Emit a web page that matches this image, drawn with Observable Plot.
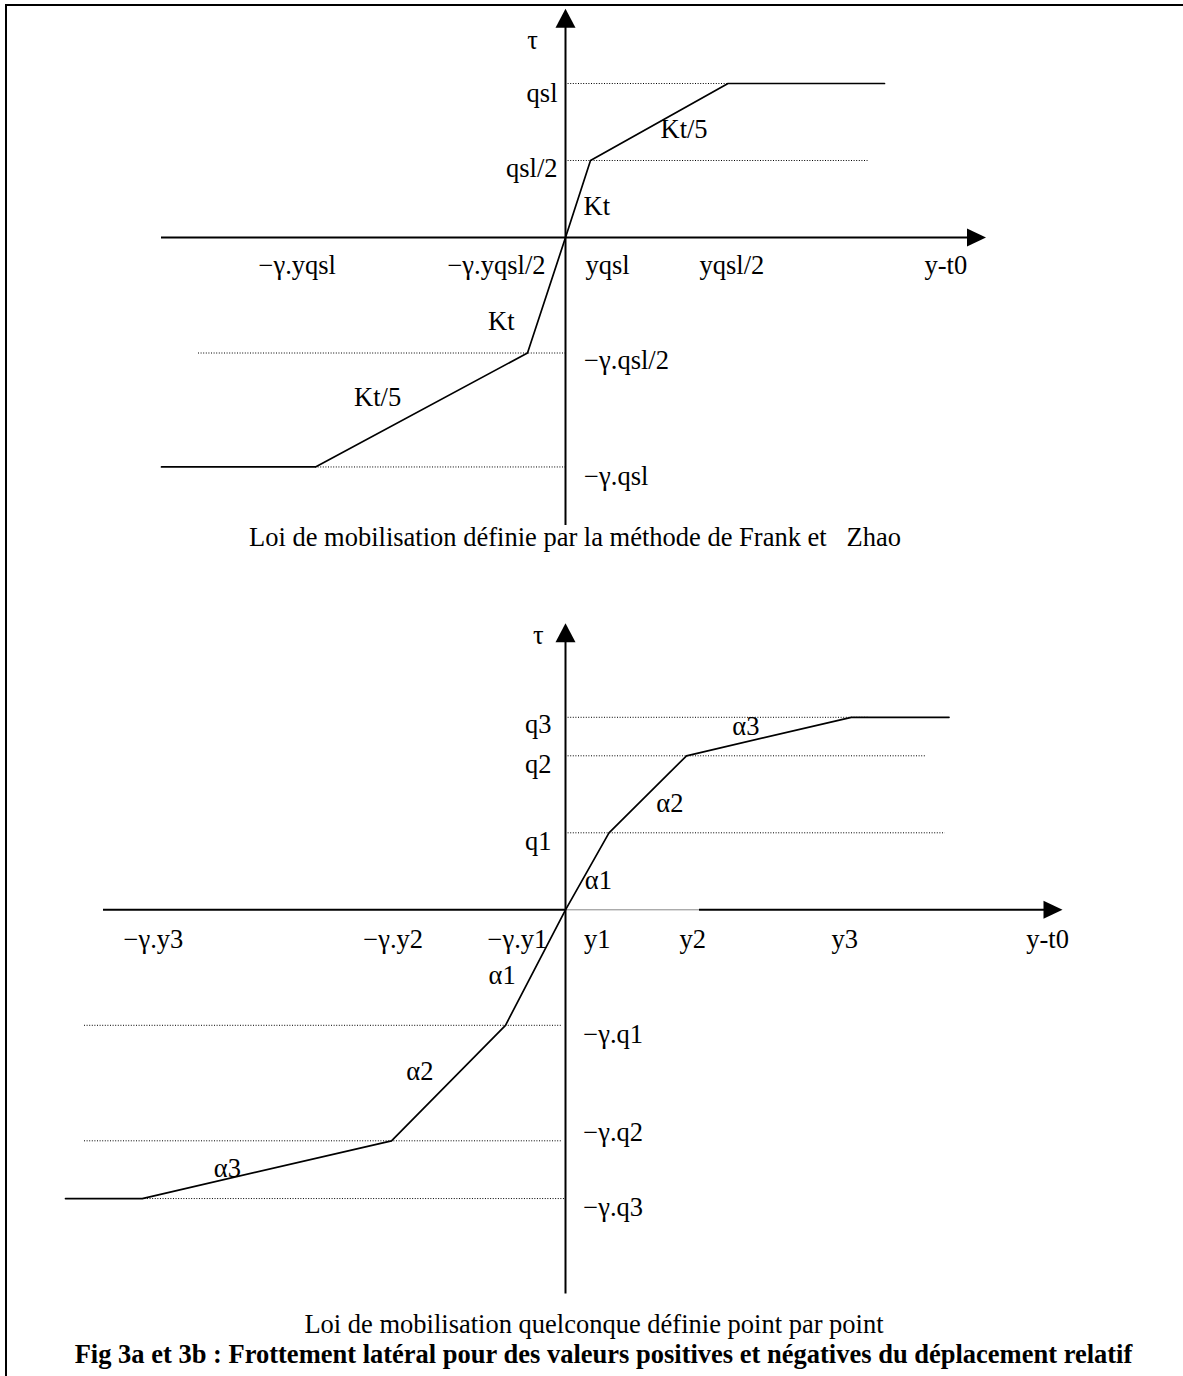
<!DOCTYPE html>
<html>
<head>
<meta charset="utf-8">
<script src="https://cdn.jsdelivr.net/npm/d3@7"></script>
<script src="https://cdn.jsdelivr.net/npm/@observablehq/plot@0.6"></script>
<style>
  html, body { margin: 0; padding: 0; background: #fff; }
  #page { position: relative; width: 1183px; height: 1376px; overflow: hidden;
          font-family: "Liberation Serif", "Times New Roman", serif; color: #000; }
  #border { position: absolute; left: 5px; top: 4px; right: -20px; bottom: -20px;
            border-left: 2px solid #000; border-top: 2px solid #000; }
  .cap { position: absolute; white-space: pre; font-size: 26.5px; line-height: 1;
         transform: translateX(-50%); }
  .bold { font-weight: bold; }
</style>
</head>
<body>
<div id="page"><div id="border"></div></div>
<script>
// ---------------- Fig 3a : Frank & Zhao law ----------------
// x = relative displacement (y - t0), tau = lateral friction
const lawA_x   = [-16.16, -10, -1.52, 0, 1, 6.5, 12.76];
const lawA_tau = [-1.49, -1.49, -0.75, 0, 0.5, 1, 1];

const guidesA_tau = [1, 0.5, -0.75, -1.49];
const guidesA_x1  = [0, 0, -14.68, -10];
const guidesA_x2  = [6.5, 12.1, 0, 0];

const axisA_x   = [-16.16, 16.82];
const axisA_tau = [-1.87, 1.485];

const labelsA_text   = ["τ", "qsl", "qsl/2", "Kt/5", "Kt", "−γ.yqsl", "−γ.yqsl/2", "yqsl", "yqsl/2", "y-t0", "Kt", "−γ.qsl/2", "Kt/5", "−γ.qsl"];
const labelsA_x      = [-1.32, -0.32, -0.32, 3.8, 0.72, -12.28, -0.8, 0.8, 5.36, 14.36, -3.1, 0.744, -8.456, 0.744];
const labelsA_tau    = [1.225, 0.88, 0.392, 0.647, 0.143, -0.24, -0.24, -0.24, -0.24, -0.24, -0.599, -0.851, -1.091, -1.61];
const labelsA_anchor = ["middle", "end", "end", "start", "start", "start", "end", "start", "start", "start", "start", "start", "start", "start"];

// ---------------- Fig 3b : point-by-point law ----------------
const lawB_x   = [-20, -16.93, -6.96, -2.4, 0, 1.74, 4.84, 11.43, 15.34];
const lawB_tau = [-1.875, -1.875, -1.5, -0.75, 0, 0.5, 1, 1.25, 1.25];

const guidesB_tau = [1.25, 1, 0.5, -0.75, -1.5, -1.875];
const guidesB_x1  = [0, 0, 0, -19.24, -19.24, -16.93];
const guidesB_x2  = [12.16, 14.42, 15.19, -0.12, -0.12, 0];

const axisB_x      = [-18.48, 19.88];
const axisB_tau    = [-2.494, 1.861];
const axisB_gray_x = [0, 5.36];

const labelsB_text   = ["τ", "q3", "q2", "q1", "α3", "α2", "α1", "−γ.y3", "−γ.y2", "−γ.y1", "y1", "y2", "y3", "y-t0", "α1", "α2", "α3", "−γ.q1", "−γ.q2", "−γ.q3"];
const labelsB_x      = [-1.09, -0.56, -0.56, -0.56, 6.67, 3.63, 0.77, -17.68, -8.09, -3.12, 0.744, 4.56, 10.64, 18.43, -3.08, -6.37, -14.07, 0.71, 0.71, 0.71];
const labelsB_tau    = [1.727, 1.145, 0.890, 0.390, 1.132, 0.634, 0.136, -0.245, -0.245, -0.245, -0.245, -0.245, -0.245, -0.245, -0.481, -1.108, -1.732, -0.864, -1.503, -1.99];
const labelsB_anchor = ["middle", "end", "end", "end", "start", "start", "start", "start", "start", "start", "start", "start", "start", "start", "start", "start", "start", "start", "start", "start"];

const captionA = "Loi de mobilisation définie par la méthode de Frank et   Zhao";
const captionB = "Loi de mobilisation quelconque définie point par point";
const captionFig = "Fig 3a et 3b : Frottement latéral pour des valeurs positives et négatives du déplacement relatif";

// ---------------- layout ----------------
const W = 1183;
const originX = 565, unitX = 25;            // px of x = 0, px per x unit
const xDomain = [-originX / unitX, (W - originX) / unitX];
const FONT = "Liberation Serif";
const FS = 26.5;

const arrowUp = { draw(ctx) { ctx.moveTo(0, 0); ctx.lineTo(-10, 19); ctx.lineTo(10, 19); ctx.closePath(); } };
const arrowRight = { draw(ctx) { ctx.moveTo(0, 0); ctx.lineTo(-19, -9); ctx.lineTo(-19, 9); ctx.closePath(); } };

function zip(keys, arrays) {
  return arrays[0].map((_, i) => Object.fromEntries(keys.map((k, j) => [k, arrays[j][i]])));
}

function labelMarks(rows) {
  return ["start", "middle", "end"].map(a =>
    Plot.text(rows.filter(d => d.anchor === a), {
      x: "x", y: "y", text: "t", textAnchor: a, lineAnchor: "bottom",
      fontFamily: FONT, fontSize: FS, fill: "#000"
    }));
}

function guideMark(tau, x1, x2) {
  return Plot.ruleY(zip(["y", "x1", "x2"], [tau, x1, x2]), {
    y: "y", x1: "x1", x2: "x2", stroke: "#000", strokeWidth: 1, strokeDasharray: "1,1.6"
  });
}

function panel(height, originY, unitY, marks) {
  return Plot.plot({
    width: W, height, margin: 0,
    x: { domain: xDomain, axis: null },
    y: { domain: [-(height - originY) / unitY, originY / unitY], axis: null },
    style: { background: "transparent", overflow: "visible" },
    marks
  });
}

// Panel A
const rowsA = zip(["t", "x", "y", "anchor"], [labelsA_text, labelsA_x, labelsA_tau, labelsA_anchor]);
const svgA = panel(530, 237, 154, [
  guideMark(guidesA_tau, guidesA_x1, guidesA_x2),
  Plot.ruleY([0], { x1: axisA_x[0], x2: axisA_x[1] - 0.3, stroke: "#000", strokeWidth: 2 }),
  Plot.ruleX([0], { y1: axisA_tau[0], y2: axisA_tau[1] - 0.05, stroke: "#000", strokeWidth: 2 }),
  Plot.dot([0], { x: [0], y: [axisA_tau[1]], symbol: arrowUp, fill: "#000", stroke: "none" }),
  Plot.dot([0], { x: [axisA_x[1]], y: [0], symbol: arrowRight, fill: "#000", stroke: "none" }),
  Plot.line(zip(["x", "y"], [lawA_x, lawA_tau]), { x: "x", y: "y", stroke: "#000", strokeWidth: 1.7, curve: "linear" }),
  ...labelMarks(rowsA)
]);

// Panel B
const rowsB = zip(["t", "x", "y", "anchor"], [labelsB_text, labelsB_x, labelsB_tau, labelsB_anchor]);
const svgB = panel(740, 349.3, 154, [
  guideMark(guidesB_tau, guidesB_x1, guidesB_x2),
  Plot.ruleY([0], { x1: axisB_x[0], x2: axisB_gray_x[0], stroke: "#000", strokeWidth: 2 }),
  Plot.ruleY([0], { x1: axisB_gray_x[0], x2: axisB_gray_x[1], stroke: "#888", strokeWidth: 1 }),
  Plot.ruleY([0], { x1: axisB_gray_x[1], x2: axisB_x[1] - 0.3, stroke: "#000", strokeWidth: 2 }),
  Plot.ruleX([0], { y1: axisB_tau[0], y2: axisB_tau[1] - 0.05, stroke: "#000", strokeWidth: 2 }),
  Plot.dot([0], { x: [0], y: [axisB_tau[1]], symbol: arrowUp, fill: "#000", stroke: "none" }),
  Plot.dot([0], { x: [axisB_x[1]], y: [0], symbol: arrowRight, fill: "#000", stroke: "none" }),
  Plot.line(zip(["x", "y"], [lawB_x, lawB_tau]), { x: "x", y: "y", stroke: "#000", strokeWidth: 1.7, curve: "linear" }),
  ...labelMarks(rowsB)
]);

const page = document.getElementById("page");
function place(el, top) {
  el.style.position = "absolute";
  el.style.left = "0px";
  el.style.top = top + "px";
  page.appendChild(el);
}
place(svgA, 0);
place(svgB, 560);

function caption(text, centerX, baseline, cls) {
  const d = document.createElement("div");
  d.className = "cap" + (cls ? " " + cls : "");
  d.textContent = text;
  d.style.left = centerX + "px";
  d.style.top = (baseline - 0.8375 * FS) + "px";
  page.appendChild(d);
}
caption(captionA, 575, 546);
caption(captionB, 594, 1332.7);
caption(captionFig, 603.5, 1363.3, "bold");
</script>
</body>
</html>
